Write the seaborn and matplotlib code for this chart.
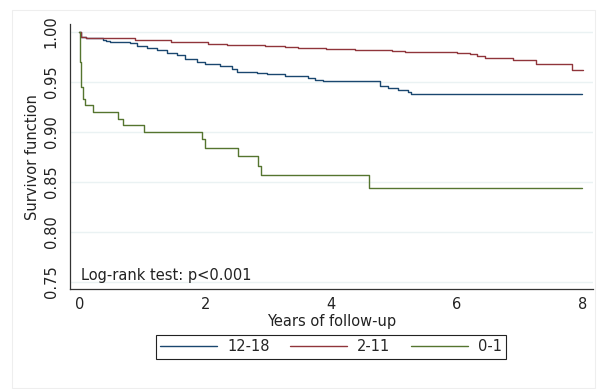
import pandas as pd
import matplotlib
matplotlib.use("Agg")
import matplotlib.pyplot as plt
from matplotlib.patches import Rectangle
import seaborn as sns

sns.set_style("white")
plt.rcParams["font.family"] = ["DejaVu Sans"]

# Kaplan-Meier step points (time in years, survival)
t_1218 = [0, 0.02, 0.10, 0.38, 0.43, 0.49, 0.81, 0.91, 1.07, 1.23, 1.39, 1.55, 1.68,
          1.87, 2.00, 2.24, 2.42, 2.50, 2.82, 2.98, 3.27, 3.64, 3.75, 3.88, 4.78,
          4.91, 5.07, 5.23, 5.28, 8.00]
s_1218 = [1.0, 0.995, 0.994, 0.992, 0.991, 0.990, 0.9887, 0.986, 0.984, 0.982, 0.979,
          0.977, 0.973, 0.970, 0.9674, 0.966, 0.963, 0.960, 0.9584, 0.9574, 0.956,
          0.954, 0.952, 0.951, 0.9457, 0.944, 0.9417, 0.940, 0.938, 0.938]

t_211 = [0, 0.02, 0.10, 0.88, 1.46, 2.05, 2.34, 2.95, 3.27, 3.48, 3.93, 4.38, 4.97,
         5.18, 6.00, 6.21, 6.32, 6.45, 6.90, 7.27, 7.84, 8.01]
s_211 = [1.0, 0.995, 0.994, 0.992, 0.990, 0.988, 0.987, 0.986, 0.985, 0.984, 0.983,
         0.982, 0.981, 0.980, 0.979, 0.978, 0.976, 0.974, 0.972, 0.968, 0.962, 0.962]

t_01 = [0, 0.005, 0.02, 0.06, 0.09, 0.22, 0.61, 0.69, 1.03, 1.95, 1.99, 2.52, 2.84,
        2.89, 4.60, 8.00]
s_01 = [1.0, 0.970, 0.945, 0.933, 0.927, 0.920, 0.913, 0.907, 0.900, 0.893, 0.884,
        0.876, 0.866, 0.857, 0.844, 0.844]

groups = ["12-18", "2-11", "0-1"]
colors = ["#1a476f", "#90353b", "#55752f"]

df = pd.concat([
    pd.DataFrame({"Years": t, "Survival": s, "Group": g})
    for t, s, g in zip([t_1218, t_211, t_01], [s_1218, s_211, s_01], groups)
])

fs = 10.5

fig = plt.figure(figsize=(6.03, 3.89), dpi=100)
fig.patches.append(Rectangle((12 / 603, 1 - 388 / 389), 583 / 603, 378 / 389,
                             transform=fig.transFigure, fill=False,
                             edgecolor="#eeeeee", lw=0.8))
ax = fig.add_axes([0.1161, 0.2563, 0.8673, 0.6812])

sns.lineplot(data=df, x="Years", y="Survival", hue="Group", hue_order=groups,
             palette=colors, drawstyle="steps-post", estimator=None, sort=False,
             linewidth=1.0, ax=ax)

ax.set_xlim(-0.15, 8.17)
ax.set_ylim(0.7424, 1.0074)
ax.set_xticks([0, 2, 4, 6, 8])
ax.set_yticks([0.75, 0.80, 0.85, 0.90, 0.95, 1.00])
ax.set_yticklabels(["0.75", "0.80", "0.85", "0.90", "0.95", "1.00"],
                   rotation=90, va="center")
ax.grid(axis="y", color="#eaf2f3", lw=1)
ax.grid(axis="x", visible=False)

for side in ["top", "right"]:
    ax.spines[side].set_visible(False)
for side in ["left", "bottom"]:
    ax.spines[side].set_color("#333333")
    ax.spines[side].set_linewidth(0.9)

ax.tick_params(axis="both", length=5, width=0.8, color="#333333",
               labelsize=fs, labelcolor="#222222", direction="out")
ax.tick_params(axis="x", pad=0.5)
ax.tick_params(axis="y", pad=3)

ax.set_xlabel("Years of follow-up", fontsize=fs, color="#222222")
ax.set_ylabel("Survivor function", fontsize=fs, color="#222222")
ax.xaxis.set_label_coords(0.5, -0.092)
ax.yaxis.set_label_coords(-0.058, 0.5)

ax.text(0.03, 0.756, "Log-rank test: p<0.001", fontsize=fs, color="#222222",
        va="center", ha="left")

ax.legend_.remove()
handles = ax.get_lines()[:3]
fig.legend(handles, groups, loc="center", bbox_to_anchor=(0.549, 0.108),
           bbox_transform=fig.transFigure, ncol=3, frameon=True, fancybox=False,
           edgecolor="#222222", fontsize=fs, handlelength=3.9, handletextpad=0.7,
           columnspacing=1.4, borderpad=0.3, framealpha=1)
fig.legends[0].get_frame().set_linewidth(0.8)

fig.savefig("out.png", dpi=100)
